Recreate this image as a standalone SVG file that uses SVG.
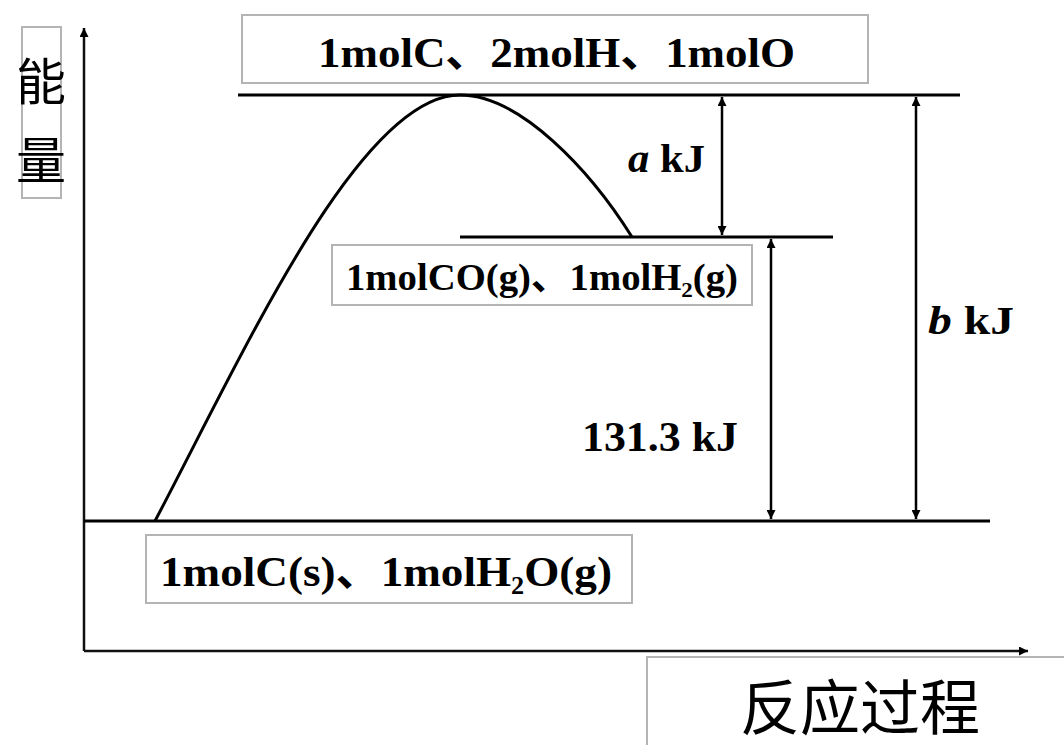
<svg xmlns="http://www.w3.org/2000/svg" width="1064" height="745" viewBox="0 0 1064 745">
<defs>
<marker id="ah" viewBox="0 0 10 10" refX="10" refY="5" markerWidth="10" markerHeight="9" markerUnits="userSpaceOnUse" orient="auto-start-reverse">
<path d="M0,0 L10,5 L0,10 z" fill="#000"/>
</marker>
<style>
.box{fill:#fff;stroke:#b4b4b4;stroke-width:2}
.lvl{stroke:#000;stroke-width:3;fill:none}
.ax{stroke:#111;stroke-width:2.5;fill:none}
.dim{stroke:#000;stroke-width:2.5;fill:none;marker-start:url(#ah);marker-end:url(#ah)}
.t{font-family:"Liberation Serif","Noto Sans CJK SC",serif;font-weight:bold;fill:#000}
.cjk{font-family:"Noto Sans CJK SC",sans-serif;fill:#000}
</style>
</defs>
<rect width="1064" height="745" fill="#fff"/>
<g id="connectors">
<line class="ax" x1="84" y1="651" x2="84" y2="28" marker-end="url(#ah)"/>
<line class="ax" x1="84" y1="651" x2="1028" y2="651" marker-end="url(#ah)"/>
<line class="lvl" x1="238" y1="95" x2="960" y2="95"/>
<line class="lvl" x1="460" y1="237" x2="833" y2="237"/>
<line class="lvl" x1="84" y1="521" x2="990" y2="521"/>
<path class="lvl" d="M155,521 C245,350 360,95 460,95 C520,95 590,170 632,237"/>
<line class="dim" x1="722" y1="97" x2="722" y2="235"/>
<line class="dim" x1="771" y1="239" x2="771" y2="519"/>
<line class="dim" x1="916" y1="97" x2="916" y2="519"/>
</g>
<g id="ylabel">
<rect class="box" x="22" y="27" width="39" height="171"/>
<text class="cjk" x="41" y="78" font-size="50" text-anchor="middle" dominant-baseline="central">能</text>
<text class="cjk" x="41" y="157" font-size="50" text-anchor="middle" dominant-baseline="central">量</text>
</g>
<g id="top-state">
<rect class="box" x="242" y="15" width="626" height="68"/>
<text class="t" x="318" y="67" font-size="43" textLength="477" lengthAdjust="spacingAndGlyphs">1molC、2molH、1molO</text>
</g>
<g id="mid-state">
<rect class="box" x="332" y="245" width="420" height="60"/>
<text class="t" x="346" y="290" font-size="37" textLength="392" lengthAdjust="spacingAndGlyphs">1molCO(g)、1molH<tspan font-size="22" dy="7">2</tspan><tspan dy="-7">(g)</tspan></text>
</g>
<g id="bottom-state">
<rect class="box" x="146" y="535" width="486" height="68"/>
<text class="t" x="160" y="586" font-size="43" textLength="452" lengthAdjust="spacingAndGlyphs">1molC(s)、1molH<tspan font-size="25" dy="8">2</tspan><tspan dy="-8">O(g)</tspan></text>
</g>
<g id="label-a">
<text class="t" x="628" y="172" font-size="40" textLength="77" lengthAdjust="spacingAndGlyphs"><tspan font-style="italic">a</tspan> kJ</text>
</g>
<g id="label-131">
<text class="t" x="582" y="451" font-size="42" textLength="156" lengthAdjust="spacingAndGlyphs">131.3 kJ</text>
</g>
<g id="label-b">
<text class="t" x="928" y="334" font-size="40" textLength="86" lengthAdjust="spacingAndGlyphs"><tspan font-style="italic">b</tspan> kJ</text>
</g>
<g id="xlabel">
<rect class="box" x="647" y="657" width="430" height="100"/>
<text class="cjk" x="860" y="703" font-size="60" text-anchor="middle" dominant-baseline="central">反应过程</text>
</g>
</svg>
